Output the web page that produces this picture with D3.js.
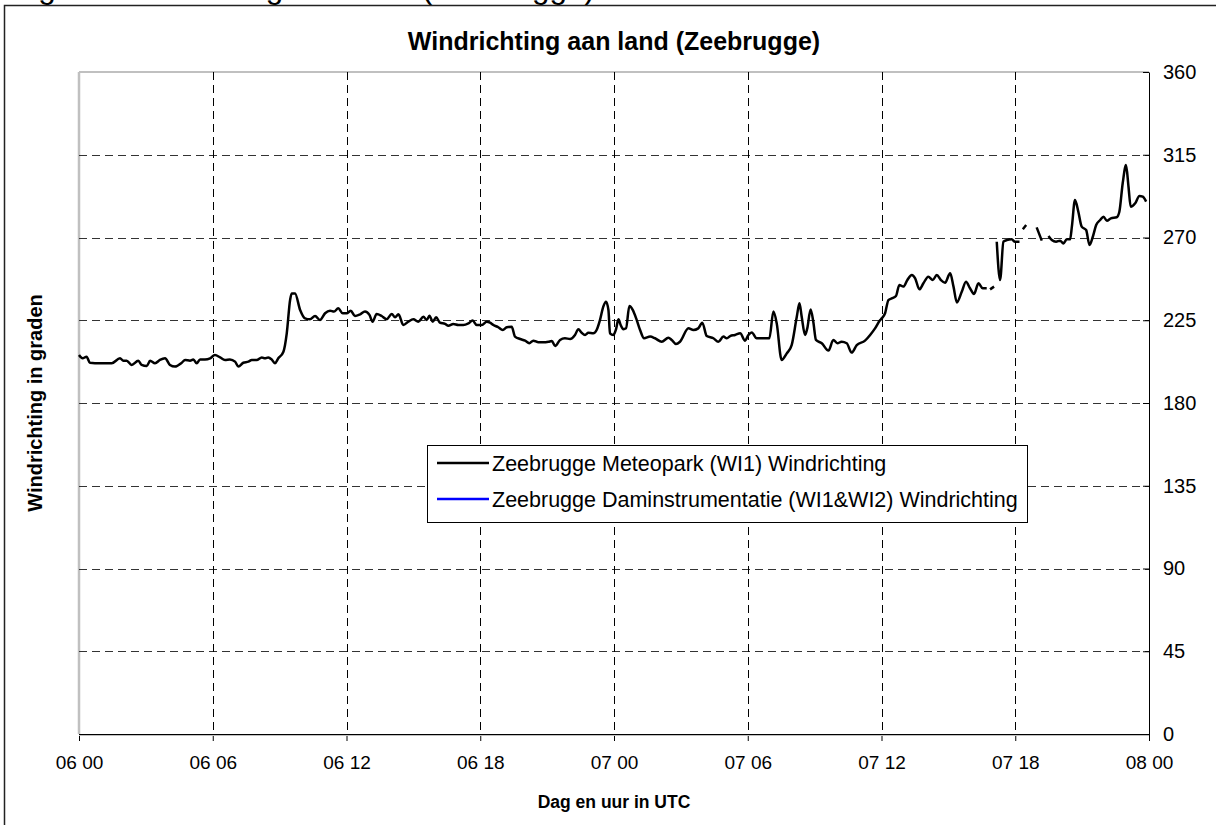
<!DOCTYPE html>
<html>
<head>
<meta charset="utf-8">
<script src="https://cdn.jsdelivr.net/npm/d3@7"></script>
<style>
  html, body { margin: 0; padding: 0; background: #fff; overflow: hidden; }
  svg { display: block; font-family: Arial, "Liberation Sans", sans-serif; }
</style>
</head>
<body>
<svg id="chart" width="1216" height="825"></svg>
<script>
// ---- data ----
const chartTitle = "Windrichting aan land (Zeebrugge)";
const captionText = "Figuur Windrichting aan land (Zeebrugge)";
const xAxisTitle = "Dag en uur in UTC";
const yAxisTitle = "Windrichting in graden";
const seriesNames = ["Zeebrugge Meteopark (WI1) Windrichting", "Zeebrugge Daminstrumentatie (WI1&WI2) Windrichting"];
const seriesColors = ["#000000", "#0000ff"];

const xTickValues = [0, 6, 12, 18, 24, 30, 36, 42, 48];
const xTickLabels = ["06 00", "06 06", "06 12", "06 18", "07 00", "07 06", "07 12", "07 18", "08 00"];
const yTickValues = [0, 45, 90, 135, 180, 225, 270, 315, 360];

// hours since 06 00 UTC
const meteoHours = [
  0, 0.16, 0.34, 0.49, 0.94, 1.47, 1.84, 1.99, 2.14, 2.36, 2.66, 2.81, 3.04, 3.19, 3.41, 3.63, 3.86, 4.08, 4.31, 4.61,
  4.76, 4.98, 5.13, 5.28, 5.43, 5.65, 5.88, 6.10, 6.33, 6.55, 6.77, 7.00, 7.15, 7.37, 7.60, 7.75, 7.97, 8.20, 8.34, 8.49,
  8.64, 8.79, 8.94, 9.17, 9.32, 9.47, 9.54, 9.69, 9.92, 10.14, 10.36, 10.59, 10.81, 11.04,
  11.26, 11.44, 11.63, 11.83, 12.01, 12.19, 12.38, 12.61, 12.83, 13.03, 13.17, 13.35, 13.58, 13.80, 14.03, 14.18, 14.33,
  14.55, 14.77, 15.00, 15.22, 15.45, 15.60, 15.72, 15.87, 16.02, 16.19, 16.42, 16.57, 16.79, 17.02, 17.24, 17.47, 17.66,
  17.84, 18.07, 18.29, 18.44, 18.59, 18.81, 19.01, 19.19, 19.41, 19.56, 19.79, 20.01, 20.20, 20.38, 20.61, 20.83, 21.06,
  21.21, 21.36, 21.58, 21.80, 22.03, 22.25, 22.40, 22.55, 22.70, 22.85, 23.07, 23.22, 23.37, 23.52, 23.64, 23.75,
  23.82, 23.97, 24.09, 24.20, 24.30, 24.42, 24.54, 24.69, 24.84, 25.02, 25.17, 25.35, 25.62, 25.84, 26.14, 26.44, 26.59,
  26.78, 26.96, 27.34, 27.56, 27.78, 27.96, 28.16, 28.46, 28.68, 28.91, 29.06, 29.21, 29.43, 29.66, 29.88, 30.03, 30.18,
  30.40, 30.70, 30.97, 31.15, 31.30, 31.52, 31.75, 31.97, 32.20, 32.32, 32.42, 32.57, 32.67, 32.82, 32.94, 33.06, 33.32,
  33.62, 33.84, 34.02, 34.21, 34.44, 34.66, 34.89, 35.26, 35.49, 35.71, 35.94,
  36.01, 36.16, 36.31, 36.46, 36.65, 36.80, 36.98, 37.16, 37.36, 37.51, 37.70, 37.88, 38.10, 38.30, 38.48, 38.66, 38.85,
  39.08, 39.23, 39.38, 39.60, 39.79, 39.97, 40.15, 40.35, 40.54, 40.72, 40.80, 40.87, 41.05, 41.11,
  41.17, 41.32, 41.47, 41.62, 41.84, 41.99, 42.19, 42.27, 42.34, 42.49, 42.70, 42.96, 43.19, 43.35,
  43.49, 43.64, 43.83, 44.01, 44.16, 44.31, 44.46, 44.54, 44.68, 44.83, 44.98, 45.18, 45.33, 45.48, 45.63, 45.81, 45.96,
  46.11, 46.29, 46.55, 46.67, 46.82, 46.97, 47.08, 47.18, 47.38, 47.57, 47.72, 47.87
];
// wind direction in degrees (null = no data)
const meteoDir = [
  206.1, 204.3, 205.2, 201.9, 201.6, 201.6, 204.3, 203.0, 203.0, 200.7, 203.0, 200.7, 200.1, 203.0, 201.6, 203.4, 204.3, 200.7, 199.8, 201.9,
  203.4, 203.0, 203.7, 201.6, 203.7, 203.7, 204.3, 206.1, 204.8, 203.4, 203.7, 202.5, 199.8, 201.9, 202.5, 203.4, 203.4, 204.8, 204.3, 204.8,
  203.7, 201.6, 204.3, 207.9, 217.9, 236.0, 239.6, 239.6, 230.6, 226.0, 225.5, 227.3, 225.1, 228.8,
  230.2, 229.7, 231.5, 228.8, 228.8, 230.2, 227.3, 228.2, 229.7, 227.9, 224.2, 228.4, 227.3, 225.5, 228.4, 226.6, 228.2,
  222.4, 224.2, 225.5, 224.2, 226.9, 225.1, 227.5, 224.2, 226.6, 223.7, 223.0, 222.0, 223.0, 222.4, 222.4, 223.3, 224.8,
  222.4, 222.4, 224.2, 223.7, 222.4, 221.2, 219.7, 221.2, 221.5, 216.1, 214.8, 213.9, 212.5, 213.9, 213.0, 213.0, 213.3,
  213.7, 211.0, 214.3, 215.2, 214.8, 217.0, 220.1, 218.2, 217.0, 218.2, 217.9, 219.7, 225.1, 232.4, 235.1, 230.6,
  217.9, 217.0, 220.1, 225.5, 222.4, 220.1, 220.6, 232.7, 230.6, 225.1, 219.7, 215.2, 216.1, 215.2, 213.3, 215.5, 214.3,
  212.1, 213.3, 220.6, 219.7, 220.6, 223.7, 216.4, 215.2, 213.3, 216.1, 215.2, 216.4, 217.0, 217.9, 213.9, 217.0, 218.4,
  215.2, 215.2, 215.2, 229.7, 223.3, 203.4, 207.0, 211.5, 226.9, 234.2, 226.9, 217.0, 220.6, 230.9, 224.2, 214.3, 212.5,
  208.5, 214.3, 212.5, 213.3, 212.5, 207.4, 211.5, 213.9, 217.0, 220.6, 225.1,
  226.0, 228.8, 236.0, 236.9, 238.2, 244.2, 243.3, 246.9, 249.6, 247.8, 241.8, 245.1, 248.7, 246.9, 249.6, 246.9, 245.4,
  250.5, 243.3, 234.7, 240.5, 246.0, 242.4, 239.3, 245.1, 242.4, 242.4, null, 241.8, 243.3, null,
  267.7, 246.9, 267.7, 268.6, 269.0, 267.7, 267.7, null, 274.5, 276.8, null, 275.5, 268.3, null,
  270.8, 268.6, 267.7, 268.3, 266.8, 269.0, 269.0, 275.9, 290.4, 284.0, 275.9, 274.1, 265.9, 270.4, 276.8, 279.5, 281.3,
  279.1, 280.4, 281.0, 284.0, 299.5, 309.4, 297.6, 286.7, 288.6, 292.6, 292.2, 289.5
];
// second series: no data visible in this period
const damHours = [];
const damDir = [];

// ---- chart ----
const svg = d3.select("#chart");
const W = 1216, H = 825;
const plot = { left: 79, right: 1149, top: 72, bottom: 734 };

const x = d3.scaleLinear().domain([0, 48]).range([plot.left, plot.right]);
const y = d3.scaleLinear().domain([0, 360]).range([plot.bottom, plot.top]);

svg.append("rect").attr("width", W).attr("height", H).attr("fill", "#fff");

// cut-off caption above the frame
svg.append("text")
  .attr("x", 12).attr("y", -2.5)
  .attr("font-size", 31.5)
  .attr("fill", "#000")
  .text(captionText);

// outer frame
svg.append("rect")
  .attr("x", 4.5).attr("y", 5.5)
  .attr("width", 1400).attr("height", 1000)
  .attr("fill", "none").attr("stroke", "#222").attr("stroke-width", 1.5);

// plot area border (grey top/left)
svg.append("line").attr("x1", plot.left).attr("x2", plot.right).attr("y1", plot.top).attr("y2", plot.top)
  .attr("stroke", "#c0c0c0").attr("stroke-width", 2);
svg.append("line").attr("x1", plot.left).attr("x2", plot.left).attr("y1", plot.top).attr("y2", plot.bottom)
  .attr("stroke", "#c0c0c0").attr("stroke-width", 2.5);

// gridlines
const grid = svg.append("g");
grid.selectAll("line.h").data(yTickValues.filter(v => v > 0 && v < 360)).join("line")
  .attr("class", "h")
  .attr("x1", plot.left).attr("x2", plot.right)
  .attr("y1", d => Math.round(y(d)) + 0.5).attr("y2", d => Math.round(y(d)) + 0.5)
  .attr("stroke", "#333").attr("stroke-width", 1).attr("stroke-dasharray", "8,5");
grid.selectAll("line.v").data(xTickValues.filter(v => v > 0 && v < 48)).join("line")
  .attr("class", "v")
  .attr("x1", d => Math.round(x(d)) + 0.5).attr("x2", d => Math.round(x(d)) + 0.5)
  .attr("y1", plot.top).attr("y2", plot.bottom)
  .attr("stroke", "#000").attr("stroke-width", 1).attr("stroke-dasharray", "8,5");

// x axis
const xAxis = d3.axisBottom(x)
  .tickValues(xTickValues)
  .tickFormat((d, i) => xTickLabels[i])
  .tickSizeInner(7).tickSizeOuter(0).tickPadding(15);
const gx = svg.append("g").attr("transform", `translate(0,${plot.bottom})`).call(xAxis);
gx.select(".domain").attr("stroke", "#000");
gx.selectAll(".tick line").attr("stroke", "#000");
gx.selectAll("text").attr("font-size", 19).attr("fill", "#000").attr("font-family", "Arial, 'Liberation Sans', sans-serif");
svg.append("line").attr("x1", plot.left).attr("x2", plot.right).attr("y1", plot.bottom + 1.5).attr("y2", plot.bottom + 1.5)
  .attr("stroke", "#c0c0c0").attr("stroke-width", 1);

// right y axis
const yAxis = d3.axisRight(y)
  .tickValues(yTickValues)
  .tickSizeInner(-6).tickSizeOuter(0).tickPadding(14);
const gy = svg.append("g").attr("transform", `translate(${plot.right},0)`).call(yAxis);
gy.select(".domain").attr("stroke", "#000");
gy.selectAll(".tick line").attr("stroke", "#000");
gy.selectAll("text").attr("font-size", 20).attr("fill", "#000").attr("font-family", "Arial, 'Liberation Sans', sans-serif");
svg.append("line").attr("x1", plot.right + 0.5).attr("x2", plot.right + 0.5).attr("y1", plot.bottom).attr("y2", plot.bottom + 7)
  .attr("stroke", "#000");

// series lines
const line = d3.line()
  .defined(d => d.v !== null)
  .x(d => x(d.h)).y(d => y(d.v))
  .curve(d3.curveMonotoneX);

const meteoData = meteoHours.map((h, i) => ({ h, v: meteoDir[i] }));
const damData = damHours.map((h, i) => ({ h, v: damDir[i] }));

svg.append("path").datum(damData)
  .attr("fill", "none").attr("stroke", seriesColors[1]).attr("stroke-width", 2.5)
  .attr("d", line);
svg.append("path").datum(meteoData)
  .attr("fill", "none").attr("stroke", seriesColors[0]).attr("stroke-width", 2.5)
  .attr("stroke-linejoin", "round")
  .attr("d", line);

// titles
svg.append("text")
  .attr("x", (plot.left + plot.right) / 2).attr("y", 50)
  .attr("text-anchor", "middle").attr("font-weight", "bold").attr("font-size", 25)
  .text(chartTitle);
svg.append("text")
  .attr("x", (plot.left + plot.right) / 2).attr("y", 808)
  .attr("text-anchor", "middle").attr("font-weight", "bold").attr("font-size", 17.5)
  .text(xAxisTitle);
svg.append("text")
  .attr("transform", `translate(42,${(plot.top + plot.bottom) / 2}) rotate(-90)`)
  .attr("text-anchor", "middle").attr("font-weight", "bold").attr("font-size", 20)
  .text(yAxisTitle);

// legend
const lg = svg.append("g");
lg.append("rect").attr("x", 427.5).attr("y", 445.5).attr("width", 600).attr("height", 77)
  .attr("fill", "#fff").attr("stroke", "#000").attr("stroke-width", 1);
seriesNames.forEach((name, i) => {
  const yy = 463 + i * 36;
  lg.append("line").attr("x1", 437).attr("x2", 489).attr("y1", yy).attr("y2", yy)
    .attr("stroke", seriesColors[i]).attr("stroke-width", 2.5);
  lg.append("text").attr("x", 492).attr("y", yy + 7.5)
    .attr("font-size", 21.5).attr("fill", "#000")
    .text(name);
});
</script>
</body>
</html>
